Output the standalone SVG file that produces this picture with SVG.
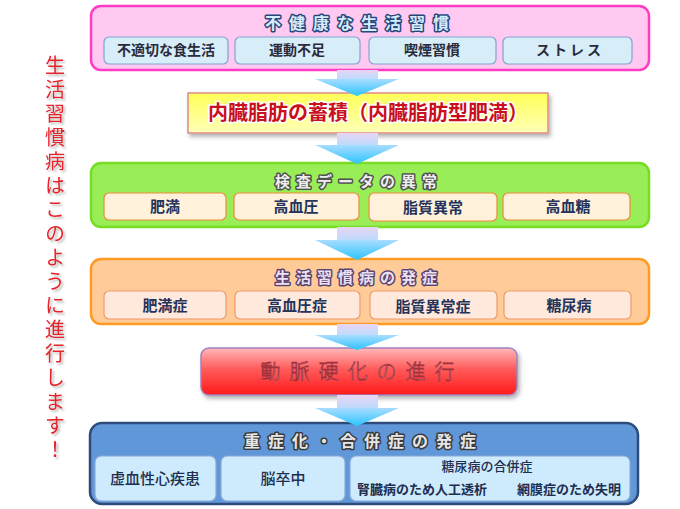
<svg xmlns="http://www.w3.org/2000/svg" width="680" height="509" viewBox="0 0 680 509">
<defs>
<linearGradient id="stem" x1="0" y1="0" x2="0" y2="1"><stop offset="0" stop-color="#ead4f2"/><stop offset="1" stop-color="#b8dcff"/></linearGradient>
<linearGradient id="head" x1="0" y1="0" x2="0" y2="1"><stop offset="0" stop-color="#a8dcff"/><stop offset="1" stop-color="#2cc4ff"/></linearGradient>
<linearGradient id="yel" x1="0" y1="0" x2="0" y2="1"><stop offset="0" stop-color="#ffff58"/><stop offset="1" stop-color="#ffffb8"/></linearGradient>
<linearGradient id="red" x1="0" y1="0" x2="0" y2="1"><stop offset="0" stop-color="#ffb8b8"/><stop offset="0.45" stop-color="#ff5a5a"/><stop offset="1" stop-color="#ff1a1a"/></linearGradient>
<filter id="sh" x="-10%" y="-20%" width="120%" height="150%"><feDropShadow dx="2" dy="3" stdDeviation="2" flood-color="#000" flood-opacity="0.3"/></filter>
<filter id="tsh" x="-30%" y="-5%" width="160%" height="110%"><feDropShadow dx="2" dy="2" stdDeviation="0.8" flood-color="#888" flood-opacity="0.6"/></filter>
</defs>
<style>
text{font-family:"Noto Sans CJK JP","Noto Sans",sans-serif;text-anchor:middle}
.sub{font-size:15px;font-weight:700;fill:#23335a}
.ttl{font-size:16px;font-weight:700;letter-spacing:8px;paint-order:stroke;stroke-width:3px;stroke-linejoin:round}
.pk{fill:#ffc9f2;stroke:#ff3cc4;stroke-width:2.5}
.pks{fill:#d7edf8;stroke:#7ea6cf;stroke-width:1.2}
.gr{fill:#99ee58;stroke:#77dd22;stroke-width:2.5}
.grs{fill:#fff1da;stroke:#ef8a3c;stroke-width:1.2}
.or{fill:#ffcc99;stroke:#ff9a22;stroke-width:2.5}
.ors{fill:#ffe9dc;stroke:#ee9a6a;stroke-width:1.2}
.bl{fill:#6097d8;stroke:#2d4c7c;stroke-width:2.5}
.bls{fill:#cdebfd;stroke:#8aaad6;stroke-width:1.2}
.vert{writing-mode:vertical-rl;text-anchor:start;font-size:20px;letter-spacing:4px;fill:#e8202a}
</style>

<g id="side">
<text class="vert" x="55" y="55" filter="url(#tsh)">生活習慣病はこのように進行します！</text>
</g>

<g id="n1">
<rect class="pk" x="91" y="6" width="558" height="64" rx="10"/>
<text class="ttl" x="361" y="29" fill="#d6ecff" stroke="#27467a">不健康な生活習慣</text>
<rect class="pks" x="104" y="37" width="124" height="27" rx="5"/>
<rect class="pks" x="235" y="37" width="125" height="27" rx="5"/>
<rect class="pks" x="369" y="37" width="127" height="27" rx="5"/>
<rect class="pks" x="503" y="37" width="129" height="27" rx="5"/>
<text class="sub" x="166" y="55" style="font-size:14px;fill:#2a2a3a">不適切な食生活</text>
<text class="sub" x="297" y="55" style="font-size:14px;fill:#2a2a3a">運動不足</text>
<text class="sub" x="432" y="55" style="font-size:14px;fill:#2a2a3a">喫煙習慣</text>
<text class="sub" x="570" y="55" style="font-size:14px;fill:#2a2a3a;letter-spacing:3px">ストレス</text>
</g>

<g id="n2">
<rect x="188" y="93" width="360" height="40" fill="url(#yel)" stroke="#e08a8a" stroke-width="1.5" filter="url(#sh)"/>
<text x="368" y="120" font-size="20" font-weight="700" fill="#c8101e" stroke="#ffffff" stroke-width="3" paint-order="stroke" stroke-linejoin="round">内臓脂肪の蓄積（内臓脂肪型肥満）</text>
</g>

<g id="n3">
<rect class="gr" x="91" y="163" width="558" height="64" rx="10"/>
<text class="ttl" x="359" y="187" fill="#eeeeee" stroke="#505050" style="font-size:15px;letter-spacing:6px">検査データの異常</text>
<rect class="grs" x="104" y="193" width="122" height="27" rx="5"/>
<rect class="grs" x="234" y="193" width="125" height="27" rx="5"/>
<rect class="grs" x="369" y="193" width="128" height="28" rx="5"/>
<rect class="grs" x="503" y="193" width="127" height="27" rx="5"/>
<text class="sub" x="165" y="212">肥満</text>
<text class="sub" x="296" y="212">高血圧</text>
<text class="sub" x="433" y="213">脂質異常</text>
<text class="sub" x="568" y="212">高血糖</text>
</g>

<g id="n4">
<rect class="or" x="91" y="259" width="558" height="65" rx="10"/>
<text class="ttl" x="359" y="283" fill="#ece0f4" stroke="#5a4470" style="font-size:15px;letter-spacing:6px">生活習慣病の発症</text>
<rect class="ors" x="104" y="291" width="122" height="28" rx="5"/>
<rect class="ors" x="235" y="291" width="125" height="28" rx="5"/>
<rect class="ors" x="370" y="291" width="127" height="28" rx="5"/>
<rect class="ors" x="504" y="291" width="127" height="28" rx="5"/>
<text class="sub" x="165" y="311">肥満症</text>
<text class="sub" x="297" y="311">高血圧症</text>
<text class="sub" x="433" y="312">脂質異常症</text>
<text class="sub" x="569" y="311">糖尿病</text>
</g>

<g id="n5">
<rect x="201" y="348" width="316" height="47" rx="8" fill="url(#red)" stroke="#a080c0" stroke-width="1.5" filter="url(#sh)"/>
<text x="362" y="379" font-size="20" letter-spacing="9" fill="#fff0f0" stroke="#a0303c" stroke-width="0.8" font-weight="300">動脈硬化の進行</text>
</g>

<g id="n6">
<rect class="bl" x="90" y="423" width="548" height="81" rx="12"/>
<text class="ttl" x="364" y="447" fill="#e6e6e6" stroke="#3a3a3a">重症化・合併症の発症</text>
<rect class="bls" x="95" y="456" width="121" height="45" rx="6"/>
<rect class="bls" x="221" y="456" width="124" height="45" rx="6"/>
<rect class="bls" x="350" y="456" width="280" height="45" rx="6"/>
<text class="sub" x="155" y="484" style="font-size:15px;font-weight:500;fill:#1e2e50">虚血性心疾患</text>
<text class="sub" x="283" y="484" style="font-size:15px;font-weight:500;fill:#1e2e50">脳卒中</text>
<text class="sub" x="487" y="471" style="font-size:13px;font-weight:500;fill:#1e2e50">糖尿病の合併症</text>
<text class="sub" x="422" y="494" style="font-size:13px;fill:#1e2e50">腎臓病のため人工透析</text>
<text class="sub" x="569" y="494" style="font-size:13px;fill:#1e2e50">網膜症のため失明</text>
</g>

<g id="connectors">
<rect x="337" y="70" width="41" height="10" fill="url(#stem)"/>
<polygon points="315,79 399,79 357,96" fill="url(#head)"/>
<rect x="337" y="133" width="41" height="13" fill="url(#stem)"/>
<polygon points="315,145 399,145 357,164" fill="url(#head)"/>
<rect x="337" y="227" width="41" height="14" fill="url(#stem)"/>
<polygon points="315,240 399,240 357,260" fill="url(#head)"/>
<rect x="337" y="324" width="41" height="12" fill="url(#stem)"/>
<polygon points="315,335 399,335 357,350" fill="url(#head)"/>
<rect x="337" y="395" width="41" height="14" fill="url(#stem)"/>
<polygon points="315,408 399,408 357,426" fill="url(#head)"/>
</g>
</svg>
